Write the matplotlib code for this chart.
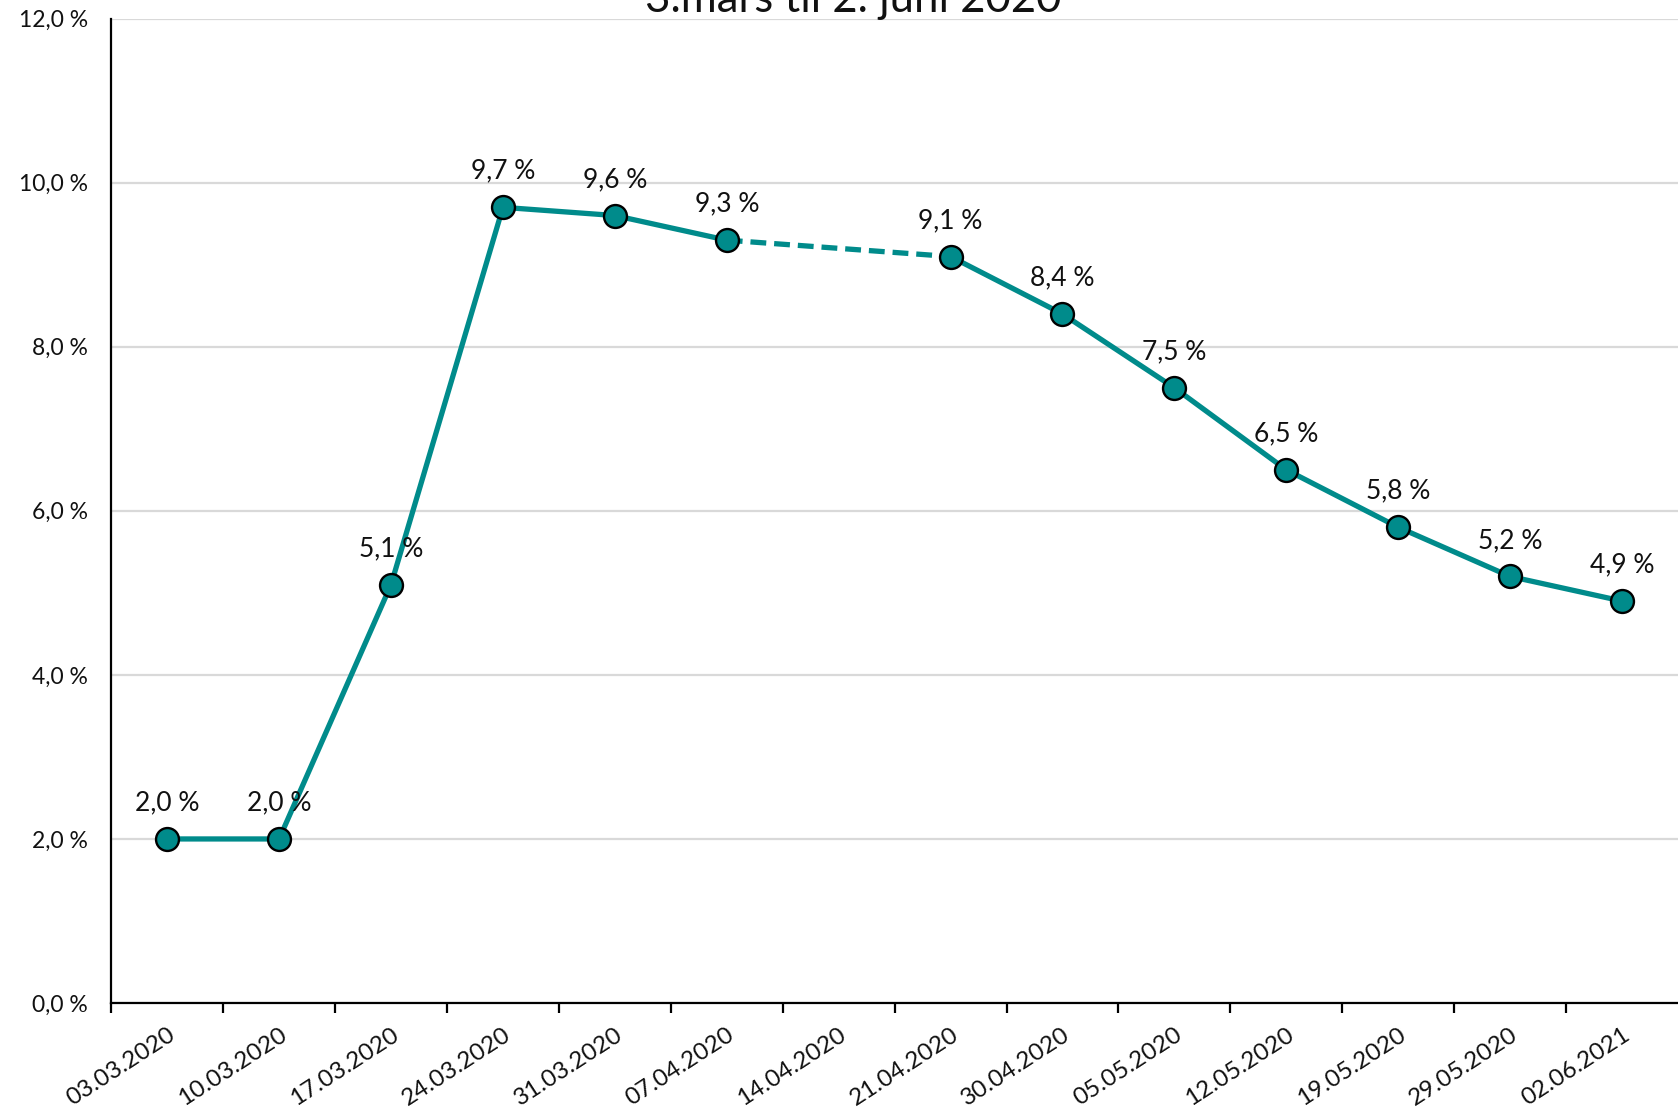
import numpy as np
import matplotlib
matplotlib.use("Agg")
import matplotlib.pyplot as plt

# Data
dates = ["03.03.2020", "10.03.2020", "17.03.2020", "24.03.2020", "31.03.2020",
         "07.04.2020", "14.04.2020", "21.04.2020", "30.04.2020", "05.05.2020",
         "12.05.2020", "19.05.2020", "29.05.2020", "02.06.2021"]
values = [2.0, 2.0, 5.1, 9.7, 9.6, 9.3, np.nan, 9.1, 8.4, 7.5, 6.5, 5.8, 5.2, 4.9]
title = "3.mars til 2. juni 2020"

teal = "#008B8B"
text_color = "#111111"

plt.rcParams['font.family'] = ['Lato', 'DejaVu Sans']

fig = plt.figure(figsize=(16.78, 11.11), dpi=100)
ax = fig.add_axes([0.0663, 0.0972, 0.9337, 0.886])

x = np.arange(len(dates))
y = np.array(values, dtype=float)

# solid line with a gap at the missing week
ax.plot(x, y, color=teal, lw=3.8, zorder=3, solid_capstyle='round')

# dashed bridge over the missing value
missing = np.where(np.isnan(y))[0]
for m in missing:
    ax.plot([x[m - 1], x[m + 1]], [y[m - 1], y[m + 1]], color=teal, lw=3.8,
            linestyle=(0, (3.0, 1.5)), zorder=3)

# markers
ok = ~np.isnan(y)
ax.plot(x[ok], y[ok], linestyle='none', marker='o', markersize=16.5,
        markerfacecolor=teal, markeredgecolor='black', markeredgewidth=1.7,
        zorder=4)

# data labels
for xi, yi in zip(x[ok], y[ok]):
    ax.annotate(f"{yi:.1f} %".replace('.', ','), (xi, yi), xytext=(0, 26),
                textcoords='offset points', ha='center', va='center',
                fontsize=19, color=text_color, zorder=5)

ax.set_xlim(-0.5, len(dates) - 0.5)
ax.set_ylim(0, 12)

# y axis
ax.set_yticks(np.arange(0, 13, 2))
ax.set_yticklabels([f"{v:.1f} %".replace('.', ',') for v in np.arange(0, 13, 2)])
ax.tick_params(axis='y', length=0, pad=17, labelsize=16.5, labelcolor=text_color)
ax.grid(axis='y', color='#d9d9d9', lw=1.6, zorder=0)
ax.set_axisbelow(True)

# x axis: tick marks between categories, labels at category centres
ax.set_xticks(np.arange(-0.5, len(dates) - 0.5, 1.0))
ax.set_xticklabels([])
ax.tick_params(axis='x', which='major', length=7, width=1.6, color='black')
ax.set_xticks(x, minor=True)
ax.set_xticklabels(dates, minor=True, rotation=33, ha='right', va='top',
                   rotation_mode='anchor')
ax.tick_params(axis='x', which='minor', length=0, pad=15, labelsize=17.5,
               labelcolor=text_color)

for side in ['top', 'right']:
    ax.spines[side].set_visible(False)
for side in ['left', 'bottom']:
    ax.spines[side].set_color('black')
    ax.spines[side].set_linewidth(1.6)

fig.text(853 / 1678, 1 - 12 / 1111, title, ha='center', va='baseline',
         fontsize=31.5, color=text_color)

fig.savefig("out.png", dpi=100)
